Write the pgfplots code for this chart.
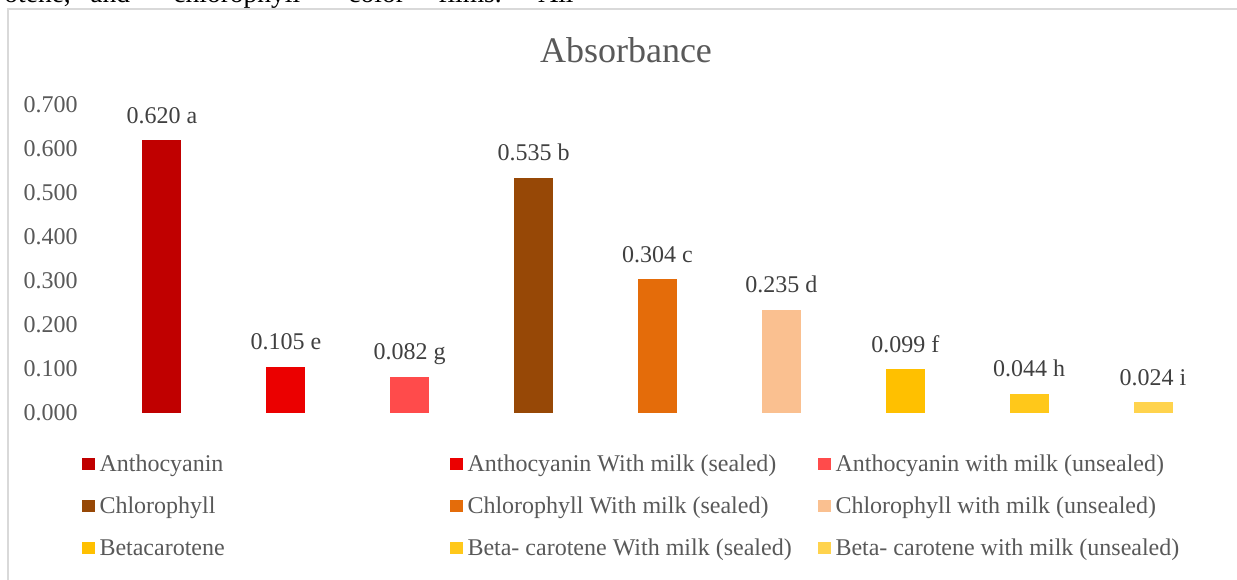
\documentclass[border=0pt]{standalone}
\usepackage{fontspec}
\setmainfont{Liberation Serif}
\usepackage{pgfplots}
\pgfplotsset{compat=1.18}
\definecolor{cA}{HTML}{C00000}
\definecolor{cB}{HTML}{EB0000}
\definecolor{cC}{HTML}{FF4B4B}
\definecolor{cD}{HTML}{974806}
\definecolor{cE}{HTML}{E46C0A}
\definecolor{cF}{HTML}{FAC090}
\definecolor{cG}{HTML}{FFC000}
\definecolor{cH}{HTML}{FFC81A}
\definecolor{cI}{HTML}{FFD34D}
\definecolor{tgray}{HTML}{595959}
\definecolor{lgray}{HTML}{404040}
\definecolor{bgray}{HTML}{D9D9D9}
\pgfplotsset{mybar/.style={ybar, bar width=19.5pt, bar shift=0pt, draw=none,
  legend image code/.code={\fill[##1] (0pt,1pt) rectangle (6.5pt,7pt);},
  every node near coord/.append style={anchor=base, yshift=8.5pt, font=\fontsize{12}{14}\selectfont, text=lgray}}}
\newcommand{\lw}[1]{\makebox[175.25pt][l]{#1}}
\begin{document}
\begin{tikzpicture}
\clip (0pt,0pt) rectangle (618.5pt,289.5pt);
\fill[white] (0pt,0pt) rectangle (618.5pt,289.5pt);
% cut-off line of text above the chart
\begin{scope}[every node/.style={anchor=base west, inner sep=0pt, font=\fontsize{13.75}{16}\selectfont, text=black}]
\node at (2pt,288pt) {otene,};
\node at (45pt,288pt) {and};
\node at (86.5pt,288pt) {chlorophyll};
\node at (174pt,288pt) {color};
\node at (219pt,288pt) {films.};
\node at (269pt,288pt) {All};
\end{scope}
% chart border
\draw[bgray, line width=0.75pt] (4pt,-5pt) -- (4pt,285pt) -- (630pt,285pt);
% title
\node[anchor=base, inner sep=0pt, font=\fontsize{18}{21}\selectfont, text=tgray] at (313pt,258pt) {Absorbance};
\begin{axis}[
  at={(50pt,83pt)}, anchor=south west,
  scale only axis, width=557.5pt, height=154pt,
  xmin=-0.5, xmax=8.5, ymin=0, ymax=0.7,
  xtick=\empty,
  ytick={0,0.1,0.2,0.3,0.4,0.5,0.6,0.7},
  axis line style={draw=none},
  major tick length=0pt,
  yticklabel style={inner sep=0pt, xshift=-11pt, font=\fontsize{12}{14}\selectfont, text=tgray,
    /pgf/number format/.cd, fixed, fixed zerofill, precision=3, assume math mode=true},
  scaled y ticks=false,
  clip=false,
  legend columns=3,
  legend style={draw=none, fill=none, at={(-0.01614,-0.1331)}, anchor=north west,
    inner sep=0pt, outer sep=0pt,
    cells={anchor=base west},
    nodes={inner sep=0pt, text height=9pt, text depth=3pt, font=\fontsize{12}{14}\selectfont, text=tgray},
    row sep=9pt,
    /tikz/every odd column/.append style={column sep=2.25pt}},
]
\addplot[mybar, fill=cA, nodes near coords={0.620 a}] coordinates {(0,0.620)};
\addlegendentry{\lw{Anthocyanin}}
\addplot[mybar, fill=cB, nodes near coords={0.105 e}] coordinates {(1,0.105)};
\addlegendentry{\lw{Anthocyanin With milk (sealed)}}
\addplot[mybar, fill=cC, nodes near coords={0.082 g}] coordinates {(2,0.082)};
\addlegendentry{Anthocyanin with milk (unsealed)}
\addplot[mybar, fill=cD, nodes near coords={0.535 b}] coordinates {(3,0.535)};
\addlegendentry{\lw{Chlorophyll}}
\addplot[mybar, fill=cE, nodes near coords={0.304 c}] coordinates {(4,0.304)};
\addlegendentry{\lw{Chlorophyll With milk (sealed)}}
\addplot[mybar, fill=cF, nodes near coords={0.235 d}] coordinates {(5,0.235)};
\addlegendentry{Chlorophyll with milk (unsealed)}
\addplot[mybar, fill=cG, nodes near coords={0.099 f}] coordinates {(6,0.099)};
\addlegendentry{\lw{Betacarotene}}
\addplot[mybar, fill=cH, nodes near coords={0.044 h}] coordinates {(7,0.044)};
\addlegendentry{\lw{Beta- carotene With milk (sealed)}}
\addplot[mybar, fill=cI, nodes near coords={0.024 i}] coordinates {(8,0.024)};
\addlegendentry{Beta- carotene with milk (unsealed)}
\end{axis}
\end{tikzpicture}
\end{document}
